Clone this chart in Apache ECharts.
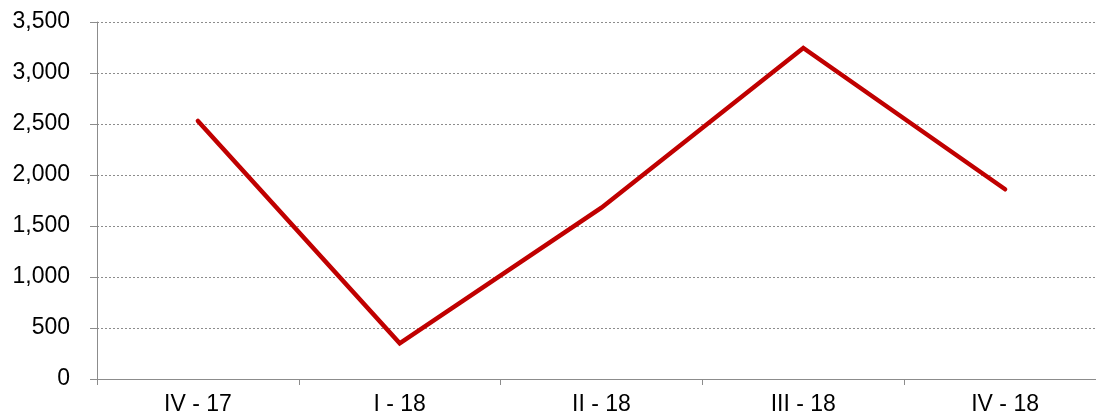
<!DOCTYPE html>
<html><head><meta charset="utf-8">
<script src="https://cdn.jsdelivr.net/npm/echarts@6/dist/echarts.min.js"></script>
<style>html,body{margin:0;padding:0;background:#fff;overflow:hidden;width:1096px;height:417px}#c{width:1106px;height:417px}</style>
</head><body><div id="c"></div>
<script>
var categories = ["IV - 17", "I - 18", "II - 18", "III - 18", "IV - 18"];
var values = [2530, 350, 1680, 3245, 1860];
var yTicks = {min: 0, max: 3500, interval: 500};

var chart = echarts.init(document.getElementById('c'), null, {renderer: 'canvas'});
chart.setOption({
  animation: false,
  grid: {left: 97, right: 0, top: 22, bottom: 38, containLabel: false},
  xAxis: {
    type: 'category', data: categories, boundaryGap: true,
    axisLine: {lineStyle: {color: '#8c8c8c', width: 1}},
    axisTick: {show: true, length: 6, lineStyle: {color: '#8c8c8c'}},
    axisLabel: {color: '#000', fontFamily: 'Liberation Sans', fontSize: 23, margin: 14},
    splitLine: {show: false}
  },
  yAxis: {
    type: 'value', min: yTicks.min, max: yTicks.max, interval: yTicks.interval,
    axisLine: {show: true, lineStyle: {color: '#8c8c8c', width: 1}},
    axisTick: {show: true, length: 7, lineStyle: {color: '#8c8c8c'}},
    axisLabel: {color: '#000', fontFamily: 'Liberation Sans', fontSize: 23, margin: 27,
      formatter: function(v){ return v.toLocaleString('en-US'); }},
    splitLine: {show: true, lineStyle: {color: '#8c8c8c', type: [2, 2], width: 1}}
  },
  series: [{
    type: 'line', data: values, showSymbol: false, symbol: 'none',
    lineStyle: {color: '#c00000', width: 4.5, cap: 'round', join: 'miter'}
  }]
});
</script></body></html>
